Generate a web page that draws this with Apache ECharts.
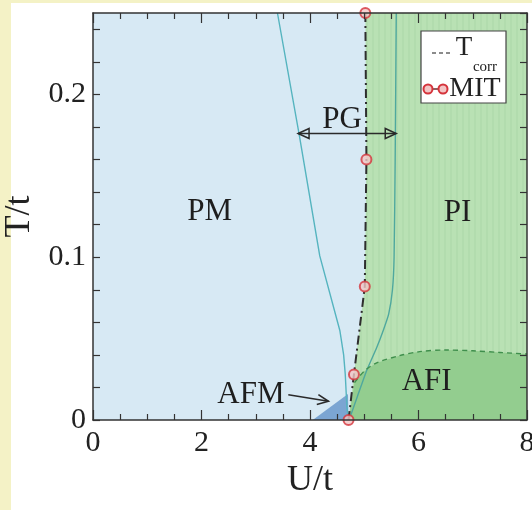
<!DOCTYPE html>
<html>
<head>
<meta charset="utf-8">
<script src="https://cdn.jsdelivr.net/npm/echarts@6/dist/echarts.min.js"></script>
<style>
  html, body { margin: 0; padding: 0; width: 532px; height: 510px; overflow: hidden; background: #f4f2c6; }
  #panel { position: absolute; left: 11px; top: 3px; right: 0; bottom: 0; background: #ffffff; }
  #chart { position: absolute; left: 0; top: 0; width: 532px; height: 510px; }
</style>
</head>
<body>
<div id="panel"></div>
<div id="chart"></div>
<script>
// Metal-insulator transition points (U/t, T/t), joined by the T_corr dash-dot line
const mitU = [4.71, 4.81, 5.01, 5.04, 5.02];
const mitT = [0.000, 0.028, 0.082, 0.160, 0.250];

// Crossover lines bounding the pseudogap (PG) region
const crossLeft = [[3.40, 0.250], [3.80, 0.1755], [4.18, 0.1008], [4.55, 0.055],
                   [4.62, 0.040], [4.65, 0.028], [4.68, 0.008], [4.71, 0.000]];
const crossRight = [[5.59, 0.250], [5.57, 0.160], [5.55, 0.100], [5.52, 0.080],
                    [5.45, 0.065], [5.35, 0.055], [5.23, 0.0445], [5.04, 0.030],
                    [4.88, 0.015], [4.72, 0.000]];

// Neel temperature of the antiferromagnetic insulator
const afiBoundary = [[4.82, 0.023], [5.00, 0.030], [5.22, 0.035], [5.65, 0.0395],
                     [6.02, 0.042], [6.51, 0.043], [7.00, 0.0425], [7.50, 0.0415],
                     [8.00, 0.0405]];

// Small antiferromagnetic metal pocket
const afmRegion = [[4.05, 0.000], [4.70, 0.016], [4.71, 0.000]];

// Phase names and where they sit
const regionNames = ['PM', 'PG', 'PI', 'AFI', 'AFM'];
const regionU     = [2.15, 4.59, 6.72, 6.15, 2.91];
const regionT     = [0.128, 0.1845, 0.127, 0.0235, 0.0155];

// Arrows: [U1, T1, U2, T2]
const pgArrow  = [3.78, 0.176, 5.59, 0.176];
const afmArrow = [3.60, 0.0155, 4.34, 0.0115];

const U_MIN = 0, U_MAX = 8, T_MIN = 0, T_MAX = 0.25;

const mitPoints = mitU.map((u, i) => [u, mitT[i]]);
const piPolygon = mitPoints.concat([[U_MAX, T_MAX], [U_MAX, T_MIN]]);
const afiPolygon = [[4.71, 0.0]].concat(afiBoundary, [[U_MAX, T_MIN]]);

const SERIF = 'Times New Roman';

// faint vertical hatching of the insulating region
const stripe = document.createElement('canvas');
stripe.width = 6; stripe.height = 4;
(function () {
  const c = stripe.getContext('2d');
  c.fillStyle = '#b9e1b4'; c.fillRect(0, 0, 6, 4);
  c.fillStyle = '#b2dcae'; c.fillRect(0, 0, 2, 4);
})();

function polygonSeries(points, fill, z) {
  return {
    type: 'custom', silent: true, z: z, clip: true,
    data: [points[0]],
    renderItem: function (params, api) {
      return { type: 'polygon', shape: { points: points.map(p => api.coord(p)) }, style: { fill: fill } };
    }
  };
}

function head(tip, from, len, half, closed) {
  const dx = tip[0] - from[0], dy = tip[1] - from[1];
  const d = Math.hypot(dx, dy) || 1;
  const ux = dx / d, uy = dy / d, nx = -uy, ny = ux;
  const a = [tip[0] - len * ux + half * nx, tip[1] - len * uy + half * ny];
  const b = [tip[0] - len * ux - half * nx, tip[1] - len * uy - half * ny];
  return closed
    ? { type: 'polygon', shape: { points: [a, tip, b] }, style: { fill: 'rgba(0,0,0,0)', stroke: '#2a2a2a', lineWidth: 1.5 } }
    : { type: 'polyline', shape: { points: [a, tip, b] }, style: { fill: null, stroke: '#2a2a2a', lineWidth: 1.6 } };
}

function arrowSeries(arr, both, closed) {
  return {
    type: 'custom', silent: true, z: 8, clip: false,
    data: [[arr[0], arr[1]]],
    renderItem: function (params, api) {
      const p1 = api.coord([arr[0], arr[1]]);
      const p2 = api.coord([arr[2], arr[3]]);
      const kids = [
        { type: 'line', shape: { x1: p1[0], y1: p1[1], x2: p2[0], y2: p2[1] }, style: { stroke: '#2a2a2a', lineWidth: 1.6 } },
        head(p2, p1, 11, 5, closed)
      ];
      if (both) kids.push(head(p1, p2, 11, 5, closed));
      return { type: 'group', children: kids };
    }
  };
}

const tickStyle = { color: '#333', width: 1.2 };
const axisLineStyle = { color: '#333', width: 1.5 };

function xAxisDef(pos, withLabels) {
  return {
    type: 'value', min: U_MIN, max: U_MAX, interval: 2, position: pos, z: 10,
    axisLine: { show: true, onZero: false, lineStyle: axisLineStyle },
    axisTick: { show: true, inside: true, length: 10, lineStyle: tickStyle },
    minorTick: { show: true, splitNumber: 4, length: 6, lineStyle: tickStyle },
    splitLine: { show: false }, minorSplitLine: { show: false },
    axisLabel: { show: withLabels, fontFamily: SERIF, fontSize: 30, color: '#222', margin: 8 },
    name: withLabels ? 'U/t' : '', nameLocation: 'middle', nameGap: 40,
    nameTextStyle: { fontFamily: SERIF, fontSize: 36, color: '#222' }
  };
}

function yAxisDef(pos, withLabels) {
  return {
    type: 'value', min: T_MIN, max: T_MAX, interval: 0.02, position: pos, z: 10,
    axisLine: { show: true, onZero: false, lineStyle: axisLineStyle },
    axisTick: { show: true, inside: true, length: 7, lineStyle: tickStyle },
    splitLine: { show: false },
    axisLabel: {
      show: withLabels, fontFamily: SERIF, fontSize: 30, color: '#222', margin: 7,
      showMaxLabel: false,
      formatter: function (v) {
        const k = v * 10;
        return Math.abs(k - Math.round(k)) < 1e-6 ? String(Math.round(k) / 10) : '';
      }
    },
    name: withLabels ? 'T/t' : '', nameLocation: 'middle', nameGap: 43,
    nameTextStyle: { fontFamily: SERIF, fontSize: 36, color: '#222' }
  };
}

const chart = echarts.init(document.getElementById('chart'), null, { renderer: 'canvas' });

chart.setOption({
  animation: false,
  backgroundColor: 'transparent',
  grid: {
    left: 93, right: 5, top: 13, bottom: 90, outerBoundsMode: 'none', containLabel: false,
    show: true, backgroundColor: '#d7e9f4', borderWidth: 0
  },
  xAxis: [xAxisDef('bottom', true), xAxisDef('top', false)],
  yAxis: [yAxisDef('left', true), yAxisDef('right', false)],
  series: [
    polygonSeries(piPolygon, { image: stripe, repeat: 'repeat' }, 1),
    polygonSeries(afiPolygon, '#93cd8f', 2),
    polygonSeries(afmRegion, '#7ba5d2', 2),
    {
      type: 'line', name: 'crossover (metal side)', data: crossLeft, showSymbol: false, z: 4,
      lineStyle: { color: '#55b4bf', width: 1.4 }, silent: true
    },
    {
      type: 'line', name: 'crossover (insulator side)', data: crossRight, showSymbol: false, z: 4,
      smooth: 0.2, lineStyle: { color: '#4fa89e', width: 1.4 }, silent: true
    },
    {
      type: 'line', name: 'T_N', data: afiBoundary, showSymbol: false, z: 4, smooth: 0.3,
      lineStyle: { color: '#3f8f4c', width: 1.4, type: [5, 4] }, silent: true
    },
    {
      type: 'line', name: 'T_corr', data: mitPoints, showSymbol: false, z: 5,
      lineStyle: { color: '#2e2e2e', width: 2, type: [9, 4, 2, 4] }, silent: true
    },
    {
      type: 'scatter', name: 'MIT', data: mitPoints, z: 6, symbol: 'circle', symbolSize: 10,
      itemStyle: { color: '#f3c5c5', borderColor: '#d5343c', borderWidth: 2 }, silent: true, clip: false
    },
    arrowSeries(pgArrow, true, true),
    arrowSeries(afmArrow, false, false),
    {
      type: 'custom', silent: true, z: 9, clip: false,
      data: regionNames.map((n, i) => [regionU[i], regionT[i]]),
      renderItem: function (params, api) {
        const p = api.coord([api.value(0), api.value(1)]);
        return {
          type: 'text', x: p[0], y: p[1],
          style: { text: regionNames[params.dataIndex], fontFamily: SERIF, fontSize: 31, fill: '#1e1e1e', align: 'center', verticalAlign: 'middle' }
        };
      }
    }
  ],
  graphic: [
    { type: 'rect', z: 100, shape: { x: 421, y: 31, width: 85, height: 72 }, style: { fill: '#ffffff', stroke: '#444', lineWidth: 1.2 } },
    { type: 'line', z: 101, shape: { x1: 432, y1: 53, x2: 450, y2: 53 }, style: { stroke: '#666', lineWidth: 1.5, lineDash: [4, 3] } },
    { type: 'text', z: 101, x: 464, y: 48, style: { text: 'T', fontFamily: SERIF, fontSize: 27, fill: '#222', align: 'center', verticalAlign: 'middle' } },
    { type: 'text', z: 101, x: 485, y: 67, style: { text: 'corr', fontFamily: SERIF, fontSize: 15, fill: '#222', align: 'center', verticalAlign: 'middle' } },
    { type: 'line', z: 101, shape: { x1: 428, y1: 89, x2: 443, y2: 89 }, style: { stroke: '#6b2b2b', lineWidth: 1.5 } },
    { type: 'circle', z: 102, shape: { cx: 428, cy: 89, r: 4.5 }, style: { fill: '#f3c5c5', stroke: '#d5343c', lineWidth: 2 } },
    { type: 'circle', z: 102, shape: { cx: 443, cy: 89, r: 4.5 }, style: { fill: '#f3c5c5', stroke: '#d5343c', lineWidth: 2 } },
    { type: 'text', z: 101, x: 475, y: 89, style: { text: 'MIT', fontFamily: SERIF, fontSize: 28, fill: '#222', align: 'center', verticalAlign: 'middle' } }
  ]
});
</script>
</body>
</html>
